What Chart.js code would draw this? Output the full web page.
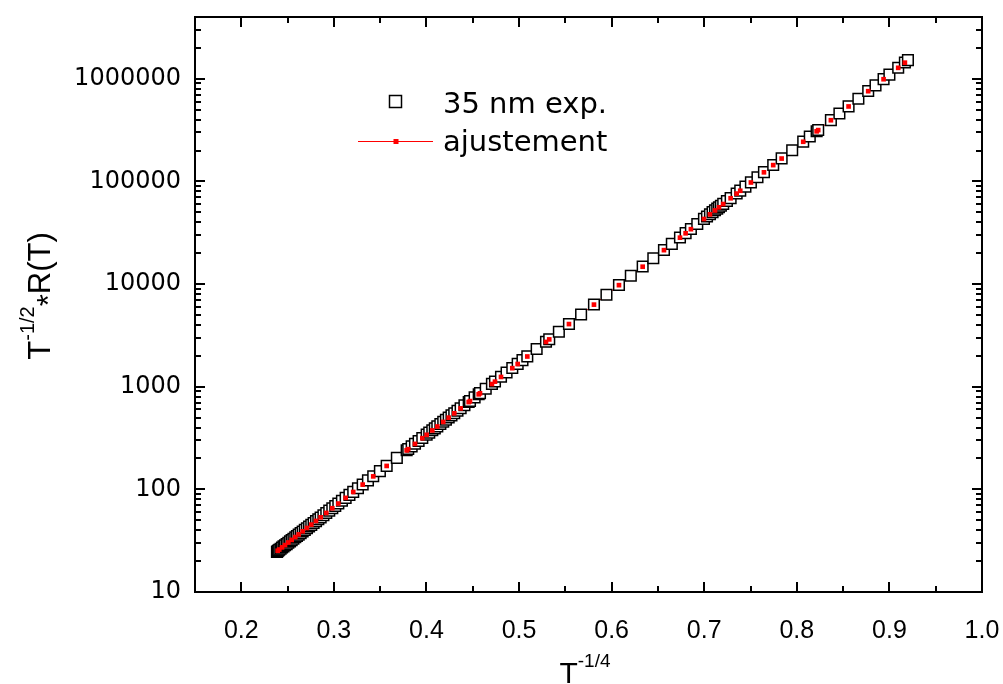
<!DOCTYPE html>
<html><head><meta charset="utf-8">
<script src="https://cdn.jsdelivr.net/npm/chart.js@4/dist/chart.umd.min.js"></script>
<style>html,body{margin:0;padding:0;background:#fff;}#wrap{width:1003px;height:684px;}</style>
</head><body><div id="wrap"><canvas id="c" width="1003" height="684"></canvas></div>
<script>
// ---- data ----
const expX = [0.2385,0.2393,0.2400,0.2410,0.2425,0.2440,0.2456,0.2472,0.2490,0.2508,0.2526,0.2544,0.2563,0.2583,0.2601,0.2620,0.2641,0.2663,0.2686,0.2709,0.2732,0.2756,0.2781,0.2807,0.2832,0.2857,0.2887,0.2918,0.2950,0.2983,0.3015,0.3048,0.3087,0.3127,0.3168,0.3209,0.3260,0.3311,0.3368,0.3425,0.3497,0.3570,0.3680,0.3786,0.3803,0.3840,0.3876,0.3915,0.3955,0.4002,0.4030,0.4063,0.4090,0.4117,0.4150,0.4181,0.4210,0.4240,0.4270,0.4300,0.4335,0.4369,0.4410,0.4456,0.4470,0.4520,0.4564,0.4578,0.4640,0.4707,0.4740,0.4805,0.4865,0.4927,0.4985,0.5037,0.5089,0.5190,0.5291,0.5326,0.5430,0.5539,0.5670,0.5809,0.5944,0.6079,0.6207,0.6335,0.6450,0.6565,0.6650,0.6738,0.6799,0.6856,0.6925,0.6997,0.7030,0.7062,0.7090,0.7116,0.7140,0.7159,0.7180,0.7205,0.7245,0.7285,0.7350,0.7389,0.7445,0.7504,0.7575,0.7645,0.7745,0.7836,0.7950,0.8069,0.8140,0.8214,0.8231,0.8368,0.8460,0.8559,0.8665,0.8771,0.8850,0.8937,0.9000,0.9095,0.9167,0.9200];
const expY = [24.6,25.0,25.4,25.8,26.4,27.1,27.8,28.5,29.3,30.2,31.1,32.0,33.0,34.1,35.1,36.2,37.5,38.8,40.3,41.8,43.4,45.1,47.0,49.0,51.1,53.2,55.9,58.8,62.0,65.4,68.9,72.7,77.5,82.7,88.3,94.4,102.5,111.4,122.2,134.0,150.6,169.5,202.6,240.5,247.2,262.3,278.0,296.0,316.0,341.0,356.7,376.3,393.0,410.6,433.2,455.4,477.3,501.0,525.8,552.0,584.0,617.0,659.4,710.3,726.6,787.6,845.9,865.3,956.2,1065,1124,1249,1376,1520,1670,1816,1976,2327,2739,2898,3429,4089,5053,6326,7870,9790,12040,14810,17830,21470,24640,28400,31340,34360,38430,43180,45540,47940,50180,52320,54400,56080,58030,60430,64460,68780,76370,81370,89060,97960,109900,123100,144600,167600,201500,244200,273900,308600,317200,395900,459500,539200,639700,759400,862900,993200,1099000,1283000,1440000,1519000];
const fitX = [0.2393,0.2410,0.2440,0.2472,0.2508,0.2544,0.2583,0.2620,0.2663,0.2709,0.2756,0.2807,0.2857,0.2918,0.2983,0.3048,0.3127,0.3209,0.3311,0.3425,0.3570,0.3786,0.3803,0.3876,0.3955,0.4002,0.4063,0.4117,0.4181,0.4240,0.4300,0.4369,0.4456,0.4470,0.4564,0.4578,0.4707,0.4740,0.4805,0.4927,0.4985,0.5089,0.5291,0.5326,0.5539,0.5809,0.6079,0.6335,0.6565,0.6738,0.6799,0.6856,0.6997,0.7062,0.7116,0.7159,0.7205,0.7285,0.7350,0.7389,0.7504,0.7645,0.7745,0.7836,0.8069,0.8214,0.8231,0.8368,0.8559,0.8771,0.8937,0.9095,0.9167];
const fitY = [25.23,25.93,27.22,28.66,30.38,32.20,34.30,36.41,39.03,42.05,45.37,49.26,53.42,58.95,65.49,72.72,82.66,94.34,111.3,133.8,169.1,239.8,246.5,277.3,315.1,340.0,375.2,409.4,454.1,499.5,550.4,615.2,708.3,724.5,843.4,862.8,1062,1121,1245,1516,1665,1970,2731,2890,4077,6308,9761,14765,21410,28320,31250,34260,43050,47800,52170,55920,60250,68580,76150,81130,97680,122700,144200,167100,243500,307700,316300,394800,537600,757200,990400,1279000,1436000];
const xTickValues = [0.2,0.3,0.4,0.5,0.6,0.7,0.8,0.9,1.0];
const xMinorValues = [0.25,0.35,0.45,0.55,0.65,0.75,0.85,0.95];
const yTickValues = [10,100,1000,10000,100000,1000000];
const yTickLabels = ['10','100','1000','10000','100000','1000000'];
const yMinorMultipliers = [2,3,4,5,6,7,8,9];
const seriesNames = ['35 nm exp.','ajustement'];
const xRange = [0.15, 1.0];
const yRange = [10, 4000000];

const FONT = "'Liberation Sans', Arial, sans-serif";
const WIDE = "'DejaVu Sans', sans-serif";

const framePlugin = {
  id: 'frame',
  afterDatasetsDraw(chart) {
    const ctx = chart.ctx, a = chart.chartArea;
    const xs = chart.scales.x, ys = chart.scales.y;
    ctx.save();
    ctx.strokeStyle = '#000';
    ctx.lineWidth = 2;
    ctx.strokeRect(a.left, a.top, a.right - a.left, a.bottom - a.top);
    const MAJ = 10, MIN = 6;
    ctx.beginPath();
    xTickValues.forEach(v => {
      const px = Math.round(xs.getPixelForValue(v));
      ctx.moveTo(px, a.bottom); ctx.lineTo(px, a.bottom - MAJ);
      ctx.moveTo(px, a.top); ctx.lineTo(px, a.top + MAJ);
    });
    xMinorValues.forEach(v => {
      const px = Math.round(xs.getPixelForValue(v));
      ctx.moveTo(px, a.bottom); ctx.lineTo(px, a.bottom - MIN);
      ctx.moveTo(px, a.top); ctx.lineTo(px, a.top + MIN);
    });
    yTickValues.forEach(v => {
      const py = Math.round(ys.getPixelForValue(v));
      ctx.moveTo(a.left, py); ctx.lineTo(a.left + MAJ, py);
      ctx.moveTo(a.right, py); ctx.lineTo(a.right - MAJ, py);
      yMinorMultipliers.forEach(m => {
        const val = v * m;
        if (val >= yRange[1]) return;
        const q = Math.round(ys.getPixelForValue(val));
        ctx.moveTo(a.left, q); ctx.lineTo(a.left + MIN, q);
        ctx.moveTo(a.right, q); ctx.lineTo(a.right - MIN, q);
      });
    });
    ctx.stroke();
    ctx.restore();
  },
  afterDraw(chart) {
    const ctx = chart.ctx;
    const ds = chart.data.datasets;
    ctx.save();
    // legend
    ctx.fillStyle = '#fff';
    ctx.strokeStyle = ds[1].borderColor;
    ctx.lineWidth = 1.5;
    ctx.fillRect(389.5, 95.5, 12, 12);
    ctx.strokeRect(389.5, 95.5, 12, 12);
    ctx.strokeStyle = ds[0].borderColor;
    ctx.lineWidth = 1;
    ctx.beginPath(); ctx.moveTo(358, 141.5); ctx.lineTo(433, 141.5); ctx.stroke();
    ctx.fillStyle = ds[2].backgroundColor;
    ctx.fillRect(393.5, 139, 5, 5);
    ctx.fillStyle = '#000';
    ctx.font = '29px ' + WIDE;
    ctx.textBaseline = 'alphabetic';
    ctx.textAlign = 'left';
    ctx.fillText(seriesNames[0], 443, 113);
    ctx.fillText(seriesNames[1], 443, 151);
    // x title: T^-1/4
    ctx.font = '30px ' + FONT;
    const tW = ctx.measureText('T').width;
    ctx.font = '19px ' + FONT;
    const sW = ctx.measureText('-1/4').width;
    let x0 = 585 - (tW + sW) / 2;
    ctx.font = '30px ' + FONT;
    ctx.fillText('T', x0, 683);
    ctx.font = '19px ' + FONT;
    ctx.fillText('-1/4', x0 + tW, 667);
    // y title: T^-1/2*R(T) rotated
    ctx.translate(50, 296);
    ctx.rotate(-Math.PI / 2);
    ctx.font = '31px ' + FONT;
    const w1 = ctx.measureText('T').width;
    ctx.font = '20px ' + FONT;
    const w2 = ctx.measureText('-1/2').width;
    ctx.font = '31px ' + FONT;
    const w3 = ctx.measureText('*').width;
    const w4 = ctx.measureText('R(T)').width;
    let s = -(w1 + w2 + w3 + w4) / 2;
    ctx.fillText('T', s, 0); s += w1;
    ctx.font = '20px ' + FONT;
    ctx.fillText('-1/2', s, -16); s += w2;
    ctx.font = '31px ' + FONT;
    ctx.fillText('*', s, 9); s += w3;
    ctx.fillText('R(T)', s, 0);
    ctx.restore();
  }
};

const toPts = (xa, ya) => xa.map((x, i) => ({ x: x, y: ya[i] }));

new Chart(document.getElementById('c'), {
  type: 'scatter',
  data: {
    datasets: [
      { label: seriesNames[1] + ' line', data: toPts(fitX, fitY), showLine: true, borderColor: '#ff0000', borderWidth: 1, pointRadius: 0, order: 3 },
      { label: seriesNames[0], data: toPts(expX, expY), showLine: false, pointStyle: 'rect', pointRadius: 7.5, pointBorderWidth: 1.5, borderColor: '#000000', backgroundColor: '#ffffff', order: 2 },
      { label: seriesNames[1], data: toPts(fitX, fitY), showLine: false, pointStyle: 'rect', pointRadius: 3.3, pointBorderWidth: 0, borderColor: '#ff0000', backgroundColor: '#ff0000', order: 1 }
    ]
  },
  options: {
    responsive: false,
    animation: false,
    devicePixelRatio: 1,
    layout: { padding: { left: 0, right: 21, top: 17, bottom: 0 } },
    plugins: { legend: { display: false }, tooltip: { enabled: false } },
    scales: {
      x: {
        type: 'linear', min: xRange[0], max: xRange[1],
        grid: { display: false, drawTicks: false }, border: { display: false },
        afterBuildTicks: s => { s.ticks = xTickValues.map(v => ({ value: v })); },
        afterFit: s => { s.height = 92; s.paddingLeft = 0; s.paddingRight = 0; },
        ticks: { padding: 24, color: '#000', font: { family: FONT, size: 25 }, callback: v => v.toFixed(1), maxRotation: 0, autoSkip: false }
      },
      y: {
        type: 'logarithmic', min: yRange[0], max: yRange[1],
        grid: { display: false, drawTicks: false }, border: { display: false },
        afterBuildTicks: s => { s.ticks = yTickValues.map(v => ({ value: v })); },
        afterFit: s => { s.width = 195; s.paddingTop = 0; s.paddingBottom = 0; },
        ticks: { padding: 14, color: '#000', font: { family: WIDE, size: 24 }, callback: (v) => yTickLabels[yTickValues.indexOf(v)] ?? '', autoSkip: false }
      }
    }
  },
  plugins: [framePlugin]
});
</script></body></html>
